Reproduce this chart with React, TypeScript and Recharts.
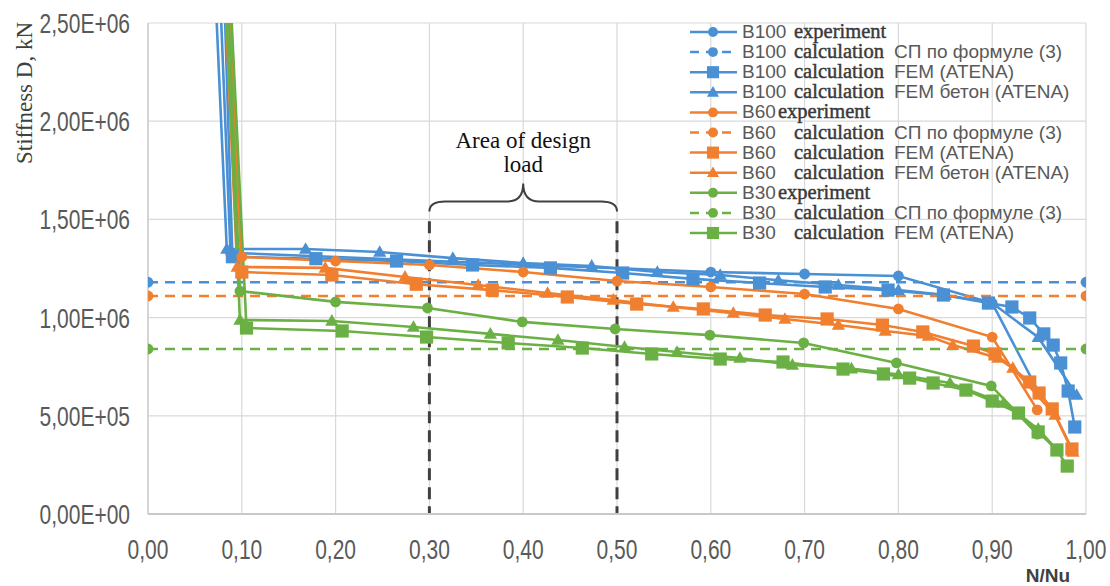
import React from 'react';
import { LineChart, Line, XAxis, YAxis, CartesianGrid, ReferenceLine, Legend } from 'recharts';

const BLUE = '#4A90D4';
const ORANGE = '#F07F30';
const GREEN = '#6BB044';

const xTicks = [0, 0.1, 0.2, 0.3, 0.4, 0.5, 0.6, 0.7, 0.8, 0.9, 1.0];
const yTicks = [0, 500000, 1000000, 1500000, 2000000, 2500000];
const Y_MAX = 2500000;
const designLoadRange = [0.3, 0.5];
const designLoadTop = 1490000;
const braceLevel = 1540000;

// B100
const b100ExpX = [0.057, 0.088, 0.6, 0.7, 0.8, 0.9, 0.95];
const b100ExpY = [5.0e6, 1.33e6, 1.232e6, 1.222e6, 1.212e6, 1.074e6, 0.616e6];
const b100SpX = [0, 1];
const b100SpY = [1.18e6, 1.18e6];
const b100FemX = [0.066, 0.09, 0.179, 0.265, 0.346, 0.429, 0.506, 0.581, 0.652, 0.722, 0.789, 0.848, 0.896, 0.921, 0.94, 0.955, 0.965, 0.973, 0.981, 0.988];
const b100FemY = [5.0e6, 1.31e6, 1.30e6, 1.288e6, 1.268e6, 1.253e6, 1.227e6, 1.197e6, 1.176e6, 1.156e6, 1.14e6, 1.115e6, 1.074e6, 1.054e6, 0.998e6, 0.917e6, 0.86e6, 0.769e6, 0.626e6, 0.443e6];
const b100ConX = [0.05, 0.084, 0.168, 0.247, 0.325, 0.4, 0.473, 0.543, 0.61, 0.672, 0.736, 0.8, 0.85, 0.9, 0.949, 0.99];
const b100ConY = [5.0e6, 1.349e6, 1.349e6, 1.334e6, 1.303e6, 1.278e6, 1.263e6, 1.232e6, 1.217e6, 1.19e6, 1.166e6, 1.14e6, 1.115e6, 1.074e6, 0.9e6, 0.606e6];

// B60
const b60ExpX = [0.062, 0.1, 0.2, 0.3, 0.4, 0.5, 0.6, 0.7, 0.8, 0.9, 0.948];
const b60ExpY = [5.0e6, 1.309e6, 1.288e6, 1.268e6, 1.232e6, 1.186e6, 1.156e6, 1.12e6, 1.044e6, 0.901e6, 0.53e6];
const b60SpX = [0, 1];
const b60SpY = [1.11e6, 1.11e6];
const b60FemX = [0.062, 0.1, 0.196, 0.286, 0.367, 0.447, 0.521, 0.592, 0.658, 0.724, 0.783, 0.826, 0.88, 0.903, 0.94, 0.95, 0.964, 0.985];
const b60FemY = [5.0e6, 1.232e6, 1.217e6, 1.17e6, 1.14e6, 1.105e6, 1.069e6, 1.044e6, 1.013e6, 0.993e6, 0.962e6, 0.927e6, 0.855e6, 0.815e6, 0.672e6, 0.616e6, 0.535e6, 0.331e6];
const b60ConX = [0.06, 0.095, 0.189, 0.274, 0.352, 0.426, 0.496, 0.56, 0.624, 0.679, 0.736, 0.786, 0.832, 0.858, 0.906, 0.922, 0.967, 0.986];
const b60ConY = [5.0e6, 1.258e6, 1.253e6, 1.207e6, 1.166e6, 1.125e6, 1.09e6, 1.054e6, 1.023e6, 0.993e6, 0.962e6, 0.932e6, 0.906e6, 0.86e6, 0.794e6, 0.743e6, 0.504e6, 0.316e6];

// B30
const b30ExpX = [0.065, 0.098, 0.2, 0.298, 0.399, 0.498, 0.599, 0.699, 0.798, 0.899, 0.948];
const b30ExpY = [5.0e6, 1.135e6, 1.08e6, 1.049e6, 0.978e6, 0.942e6, 0.911e6, 0.871e6, 0.769e6, 0.652e6, 0.407e6];
const b30SpX = [0, 1];
const b30SpY = [0.84e6, 0.84e6];
const b30FemX = [0.064, 0.105, 0.207, 0.297, 0.384, 0.463, 0.537, 0.61, 0.677, 0.741, 0.784, 0.812, 0.837, 0.872, 0.9, 0.928, 0.949, 0.969, 0.98];
const b30FemY = [5.0e6, 0.947e6, 0.932e6, 0.901e6, 0.871e6, 0.845e6, 0.815e6, 0.789e6, 0.774e6, 0.738e6, 0.713e6, 0.692e6, 0.667e6, 0.631e6, 0.575e6, 0.514e6, 0.418e6, 0.326e6, 0.244e6];
const b30ConX = [0.061, 0.098, 0.196, 0.283, 0.365, 0.437, 0.508, 0.564, 0.631, 0.687, 0.75, 0.8, 0.855, 0.912, 0.949, 0.969];
const b30ConY = [5.0e6, 0.988e6, 0.983e6, 0.952e6, 0.917e6, 0.886e6, 0.85e6, 0.825e6, 0.794e6, 0.759e6, 0.74e6, 0.71e6, 0.667e6, 0.565e6, 0.433e6, 0.326e6];

const zip = (xs: number[], ys: number[]) => xs.map((x, i) => ({ x, y: ys[i] }));

type Marker = 'circle' | 'square' | 'triangle';
interface SeriesDef {
  id: string;
  grade: string;
  middle: string;
  suffix: string;
  color: string;
  marker: Marker;
  dashed: boolean;
  data: { x: number; y: number }[];
  inLegend: boolean;
}

const series: SeriesDef[] = [
  { id: 'b100exp', grade: 'B100', middle: 'experiment', suffix: '', color: BLUE, marker: 'circle', dashed: false, data: zip(b100ExpX, b100ExpY), inLegend: true },
  { id: 'b100sp', grade: 'B100', middle: 'calculation', suffix: 'СП по формуле (3)', color: BLUE, marker: 'circle', dashed: true, data: zip(b100SpX, b100SpY), inLegend: true },
  { id: 'b100fem', grade: 'B100', middle: 'calculation', suffix: 'FEM (ATENA)', color: BLUE, marker: 'square', dashed: false, data: zip(b100FemX, b100FemY), inLegend: true },
  { id: 'b100con', grade: 'B100', middle: 'calculation', suffix: 'FEM бетон (ATENA)', color: BLUE, marker: 'triangle', dashed: false, data: zip(b100ConX, b100ConY), inLegend: true },
  { id: 'b60exp', grade: 'B60', middle: 'experiment', suffix: '', color: ORANGE, marker: 'circle', dashed: false, data: zip(b60ExpX, b60ExpY), inLegend: true },
  { id: 'b60sp', grade: 'B60', middle: 'calculation', suffix: 'СП по формуле (3)', color: ORANGE, marker: 'circle', dashed: true, data: zip(b60SpX, b60SpY), inLegend: true },
  { id: 'b60fem', grade: 'B60', middle: 'calculation', suffix: 'FEM (ATENA)', color: ORANGE, marker: 'square', dashed: false, data: zip(b60FemX, b60FemY), inLegend: true },
  { id: 'b60con', grade: 'B60', middle: 'calculation', suffix: 'FEM бетон (ATENA)', color: ORANGE, marker: 'triangle', dashed: false, data: zip(b60ConX, b60ConY), inLegend: true },
  { id: 'b30exp', grade: 'B30', middle: 'experiment', suffix: '', color: GREEN, marker: 'circle', dashed: false, data: zip(b30ExpX, b30ExpY), inLegend: true },
  { id: 'b30sp', grade: 'B30', middle: 'calculation', suffix: 'СП по формуле (3)', color: GREEN, marker: 'circle', dashed: true, data: zip(b30SpX, b30SpY), inLegend: true },
  { id: 'b30fem', grade: 'B30', middle: 'calculation', suffix: 'FEM (ATENA)', color: GREEN, marker: 'square', dashed: false, data: zip(b30FemX, b30FemY), inLegend: true },
  { id: 'b30con', grade: 'B30', middle: 'calculation', suffix: 'FEM бетон (ATENA)', color: GREEN, marker: 'triangle', dashed: false, data: zip(b30ConX, b30ConY), inLegend: false },
];

const SANS = "'Liberation Sans', Arial, sans-serif";
const SERIF = "'Liberation Serif', 'Times New Roman', serif";

const markerShape = (marker: Marker, color: string, cx: number, cy: number, s: number, key?: string) => {
  if (marker === 'circle') return <circle key={key} cx={cx} cy={cy} r={s * 0.45} fill={color} />;
  if (marker === 'square') return <rect key={key} x={cx - s * 0.55} y={cy - s * 0.55} width={s * 1.1} height={s * 1.1} fill={color} />;
  const h = s * 0.95;
  return <polygon key={key} points={`${cx},${cy - h * 0.6} ${cx + h * 0.58},${cy + h * 0.42} ${cx - h * 0.58},${cy + h * 0.42}`} fill={color} />;
};

const makeDot = (marker: Marker, color: string, id: string) => (props: any) => {
  const { cx, cy, index, payload } = props;
  const key = `${id}-dot-${index}`;
  if (cx == null || cy == null || !payload || payload.y > Y_MAX) return <g key={key} />;
  return markerShape(marker, color, cx, cy, 12, key);
};

const fmtX = (v: number) => v.toFixed(2).replace('.', ',');
const fmtY = (v: number) => {
  if (v === 0) return '0,00E+00';
  const exp = Math.floor(Math.log10(v));
  const mant = v / Math.pow(10, exp);
  return `${mant.toFixed(2).replace('.', ',')}E+${String(exp).padStart(2, '0')}`;
};

const XTick = (props: any) => {
  const { x, y, payload } = props;
  const by = y + 45;
  return (
    <text transform={`translate(${x} ${by}) scale(1 1.3)`} x={0} y={0} textAnchor="middle" fontFamily={SANS} fontSize={21} fill="#595959">
      {fmtX(payload.value)}
    </text>
  );
};

const YTick = (props: any) => {
  const { x, y, payload } = props;
  const bx = x - 18;
  const by = y + 10;
  return (
    <text transform={`translate(${bx} ${by}) scale(1 1.3)`} x={0} y={0} textAnchor="end" fontFamily={SANS} fontSize={21} fill="#595959">
      {fmtY(payload.value)}
    </text>
  );
};

const YLabel = (props: any) => {
  const vb = props.viewBox || { x: 0, y: 23 };
  const cx = vb.x + 24;
  const cy = vb.y + 70;
  return (
    <text x={cx} y={cy} transform={`rotate(-90 ${cx} ${cy})`} textAnchor="middle" dominantBaseline="central" fontFamily={SERIF} fontSize={23} fill="#404040">
      Stiffness D, kN
    </text>
  );
};

const XLabel = (props: any) => {
  const vb = props.viewBox || { x: 148, y: 514, width: 938 };
  return (
    <text x={vb.x + vb.width - 38} y={vb.y + 68} textAnchor="middle" fontFamily={SANS} fontWeight="bold" fontSize={19} fill="#404040">
      N/Nu
    </text>
  );
};

const Brace = (props: any) => {
  const { x1, y1, x2 } = props;
  if (x1 == null) return null;
  const xm = (x1 + x2) / 2;
  const d = 10;
  const tip = 28;
  const r = 16;
  const path = `M ${x1} ${y1} Q ${x1} ${y1 - d} ${x1 + r} ${y1 - d} L ${xm - r} ${y1 - d} Q ${xm} ${y1 - d} ${xm} ${y1 - tip} Q ${xm} ${y1 - d} ${xm + r} ${y1 - d} L ${x2 - r} ${y1 - d} Q ${x2} ${y1 - d} ${x2} ${y1}`;
  return (
    <g>
      <path d={path} fill="none" stroke="#404040" strokeWidth={2} />
      <text x={xm} y={y1 - 64} textAnchor="middle" fontFamily={SERIF} fontSize={23} fill="#111">Area of design</text>
      <text x={xm} y={y1 - 40} textAnchor="middle" fontFamily={SERIF} fontSize={23} fill="#111">load</text>
    </g>
  );
};

const LegendBox = () => {
  const items = series.filter((s) => s.inLegend);
  const rowH = 20.1;
  const base0 = 20;
  return (
    <svg width={420} height={240} style={{ display: 'block' }}>
      {items.map((s, i) => {
        const by = base0 + i * rowH;
        const my = by - 6;
        const midX = s.middle === 'experiment' && s.grade !== 'B100' ? 88 : 104;
        return (
          <g key={s.id}>
            <line x1={0} y1={my} x2={47} y2={my} stroke={s.color} strokeWidth={2.5} strokeDasharray={s.dashed ? '9 7' : undefined} />
            {markerShape(s.marker, s.color, 23, my, 11)}
            <text x={52} y={by} fontFamily={SANS} fontSize={19} fill="#595959">{s.grade}</text>
            <text x={midX} y={by} fontFamily={SERIF} fontSize={20.5} fill="#3a3a3a" stroke="#3a3a3a" strokeWidth={0.45}>{s.middle}</text>
            {s.suffix && <text x={204} y={by} fontFamily={SANS} fontSize={19} fill="#595959">{s.suffix}</text>}
          </g>
        );
      })}
    </svg>
  );
};

export default function App() {
  return (
    <div style={{ position: 'absolute', left: 0, top: 0, width: 1110, height: 586, background: '#fff' }}>
      <LineChart width={1110} height={586} margin={{ top: 23, right: 24, left: 0, bottom: 0 }}>
        <CartesianGrid stroke="#D9D9D9" strokeWidth={1.2} />
        <XAxis
          type="number"
          dataKey="x"
          domain={[0, 1]}
          ticks={xTicks}
          interval={0}
          allowDataOverflow
          height={72}
          tickLine={false}
          tickSize={0}
          tickMargin={0}
          axisLine={{ stroke: '#C8C8C8', strokeWidth: 2 }}
          tick={<XTick />}
          label={<XLabel />}
        />
        <YAxis
          type="number"
          dataKey="y"
          domain={[0, Y_MAX]}
          ticks={yTicks}
          interval={0}
          allowDataOverflow
          width={148}
          tickLine={false}
          tickSize={0}
          tickMargin={0}
          axisLine={{ stroke: '#C8C8C8', strokeWidth: 1.2 }}
          tick={<YTick />}
          label={<YLabel />}
        />
        {designLoadRange.map((v) => (
          <ReferenceLine
            key={`dl-${v}`}
            segment={[{ x: v, y: designLoadTop }, { x: v, y: 0 }]}
            stroke="#404040"
            strokeWidth={3}
            strokeDasharray="12 7"
          />
        ))}
        <ReferenceLine
          segment={[{ x: designLoadRange[0], y: braceLevel }, { x: designLoadRange[1], y: braceLevel }]}
          shape={(p: any) => <Brace {...p} />}
        />
        {series.map((s) => (
          <Line
            key={s.id}
            data={s.data}
            dataKey="y"
            name={s.id}
            type="linear"
            stroke={s.color}
            strokeWidth={2.6}
            strokeDasharray={s.dashed ? '10 7' : undefined}
            dot={makeDot(s.marker, s.color, s.id)}
            activeDot={false}
            isAnimationActive={false}
            legendType="none"
          />
        ))}
        <Legend
          layout="vertical"
          align="center"
          verticalAlign="middle"
          wrapperStyle={{ position: 'absolute', left: 690, top: 18, width: 420, height: 240 }}
          content={() => <LegendBox />}
        />
      </LineChart>
    </div>
  );
}
